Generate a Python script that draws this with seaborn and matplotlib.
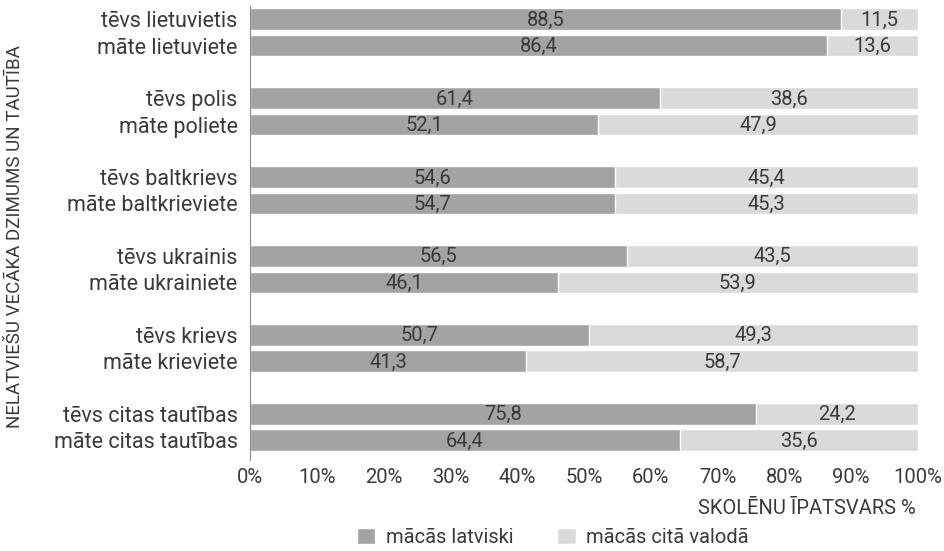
import numpy as np
import pandas as pd
import matplotlib
matplotlib.use("Agg")
import matplotlib.pyplot as plt
import seaborn as sns
from matplotlib.patches import Patch

# Data
labels = ["tēvs lietuvietis", "māte lietuviete",
          "tēvs polis", "māte poliete",
          "tēvs baltkrievs", "māte baltkrieviete",
          "tēvs ukrainis", "māte ukrainiete",
          "tēvs krievs", "māte krieviete",
          "tēvs citas tautības", "māte citas tautības"]
latvian = [88.5, 86.4, 61.4, 52.1, 54.6, 54.7, 56.5, 46.1, 50.7, 41.3, 75.8, 64.4]
other = [11.5, 13.6, 38.6, 47.9, 45.4, 45.3, 43.5, 53.9, 49.3, 58.7, 24.2, 35.6]
series_names = ["mācās latviski", "mācās citā valodā"]

# rows in pairs with a gap between groups
pos = [0, 1, 3, 4, 6, 7, 9, 10, 12, 13, 15, 16]

df = pd.DataFrame({"label": labels, "pos": pos, "lv": latvian, "other": other})
df["total"] = df["lv"] + df["other"]

dark = "#a2a3a5"
light = "#d9dadb"
txt = "#3a3a3a"
fs = 14.5

sns.set_style("white")
plt.rcParams["font.family"] = ["Roboto", "DejaVu Sans"]

fig = plt.figure(figsize=(9.45, 5.51), dpi=100)
ax = fig.add_axes([0.2646, 0.165, 0.7068, 0.824])

sns.barplot(data=df, x="total", y="pos", orient="h", native_scale=True,
            color=light, width=0.83, saturation=1, ax=ax)
sns.barplot(data=df, x="lv", y="pos", orient="h", native_scale=True,
            color=dark, width=0.83, saturation=1, ax=ax)

# segment labels
for _, r in df.iterrows():
    ax.text(r["lv"] / 2, r["pos"] + 0.03, f"{r['lv']:.1f}".replace(".", ","),
            ha="center", va="center", fontsize=fs, color=txt)
    ax.text(r["lv"] + r["other"] / 2, r["pos"] + 0.03, f"{r['other']:.1f}".replace(".", ","),
            ha="center", va="center", fontsize=fs, color=txt)

ax.set_xlim(0, 100)
ax.set_ylim(16.75, -0.5)
ax.set_yticks(pos)
ax.set_yticklabels(labels)
ax.set_xticks(np.arange(0, 101, 10))
ax.set_xticklabels([f"{v}%" for v in range(0, 101, 10)])
ax.tick_params(axis="both", length=0, labelcolor=txt)
ax.tick_params(axis="x", pad=6, labelsize=fs)
ax.tick_params(axis="y", pad=9, labelsize=15.5)

for s in ["top", "right", "bottom"]:
    ax.spines[s].set_visible(False)
ax.spines["left"].set_color("#888888")
ax.spines["left"].set_linewidth(0.8)

ax.set_xlabel("")
ax.set_ylabel("")
fig.text(0.016, 0.57, "NELATVIEŠU VECĀKA DZIMUMS UN TAUTĪBA", rotation=90,
         ha="center", va="center", fontsize=13.5, color=txt)
fig.text(0.969, 0.077, "SKOLĒNU ĪPATSVARS %", ha="right", va="center",
         fontsize=fs, color=txt)

handles = [Patch(facecolor=dark), Patch(facecolor=light)]
fig.legend(handles, series_names, loc="center", bbox_to_anchor=(0.585, 0.025),
           ncol=2, frameon=False, fontsize=fs, labelcolor=txt,
           handlelength=0.9, handleheight=0.9, columnspacing=2.2, handletextpad=0.5)

fig.savefig("out.png", dpi=100)
